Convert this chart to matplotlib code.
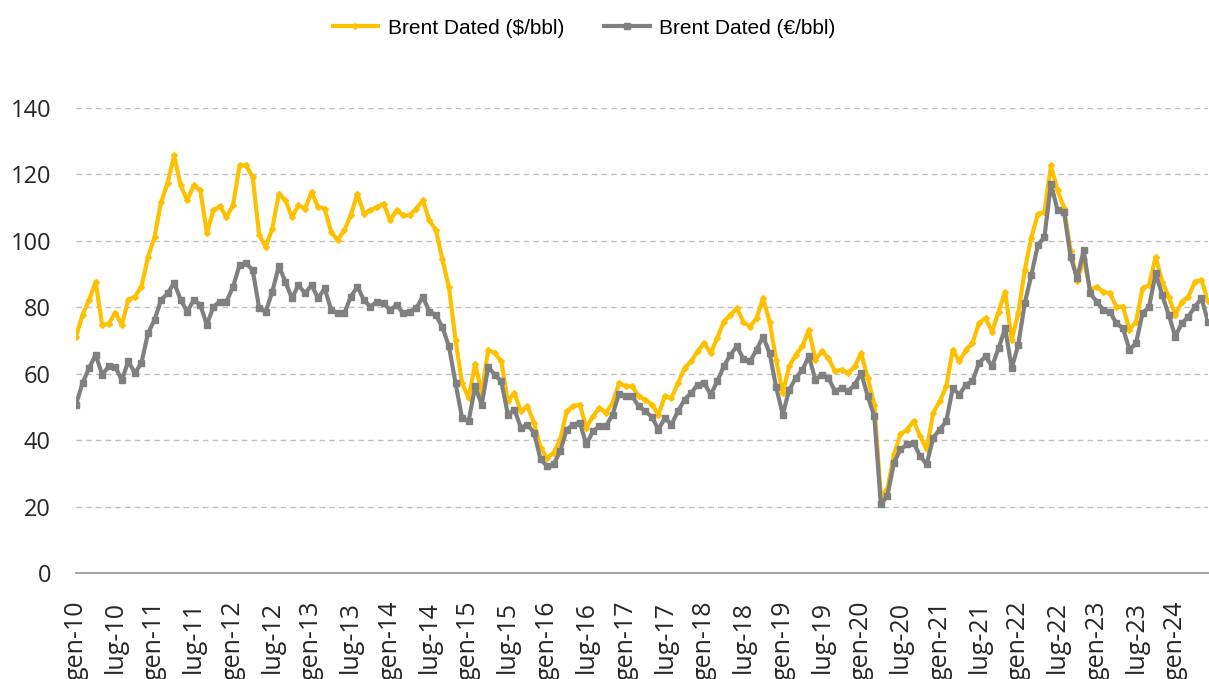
import numpy as np
import matplotlib
matplotlib.use("Agg")
import matplotlib.pyplot as plt

# Brent Dated, media mensile gen-10 .. giu-24
brent_usd = [71.2, 77.7, 82.2, 87.7, 74.7, 75.0, 78.4, 74.7, 82.2, 83.2, 86.2, 95.0,
             101.2, 111.7, 117.4, 125.7, 116.7, 112.2, 116.7, 115.2, 102.4, 109.2, 110.4, 107.2,
             110.7, 122.7, 122.7, 119.2, 101.7, 98.2, 103.7, 114.2, 112.2, 107.2, 110.7, 109.7,
             114.7, 110.2, 109.7, 102.7, 100.2, 103.2, 107.7, 114.2, 108.2, 109.2, 110.2, 111.2,
             106.2, 109.2, 107.7, 107.7, 109.7, 112.2, 106.2, 103.2, 94.4, 86.0, 70.2, 57.2,
             52.7, 63.0, 54.2, 67.2, 66.2, 63.7, 51.7, 54.2, 48.7, 50.2, 45.2, 37.7,
             34.7, 36.2, 40.2, 48.7, 50.2, 50.7, 43.7, 47.2, 49.7, 48.2, 51.2, 57.2,
             56.2, 56.2, 53.2, 52.2, 50.7, 47.7, 53.2, 52.7, 57.2, 61.7, 63.7, 66.7,
             69.2, 66.2, 70.7, 75.7, 77.7, 79.7, 75.5, 74.2, 76.7, 82.7, 75.7, 64.2,
             54.2, 62.2, 65.7, 68.2, 73.2, 64.2, 66.7, 64.7, 60.7, 61.2, 60.2, 62.2,
             66.2, 58.7, 50.7, 23.2, 25.2, 35.7, 41.7, 43.2, 45.7, 41.2, 37.2, 48.2,
             51.7, 56.2, 67.2, 63.7, 67.2, 69.2, 75.2, 76.7, 72.7, 78.7, 84.7, 70.2,
             78.2, 91.2, 101.0, 108.0, 108.7, 122.7, 115.2, 110.0, 97.0, 88.0, 94.5, 85.2,
             86.2, 84.7, 84.2, 80.2, 80.2, 73.2, 75.7, 85.7, 86.7, 95.2, 87.7, 83.2,
             77.7, 81.7, 83.2, 87.7, 88.2, 82.0]

brent_eur = [50.7, 57.2, 61.7, 65.7, 59.7, 62.2, 62.0, 58.2, 63.7, 60.2, 63.2, 72.2,
             76.2, 82.2, 84.2, 87.4, 82.2, 78.7, 82.2, 80.7, 74.7, 80.2, 81.7, 81.7,
             86.2, 92.7, 93.2, 91.2, 79.7, 78.7, 84.7, 92.4, 87.7, 82.7, 86.7, 84.2,
             86.7, 82.7, 85.7, 79.2, 78.2, 78.2, 83.2, 86.2, 82.2, 80.2, 81.7, 81.2,
             79.2, 80.7, 78.2, 78.7, 79.7, 83.2, 78.7, 77.7, 74.0, 68.2, 57.2, 46.7,
             45.7, 56.2, 50.7, 62.0, 59.7, 57.7, 47.7, 49.2, 43.7, 44.7, 42.2, 34.2,
             32.2, 32.7, 36.7, 43.2, 44.7, 45.2, 38.7, 42.7, 44.2, 44.2, 47.7, 54.0,
             53.2, 53.2, 50.2, 48.7, 47.0, 43.2, 46.7, 44.7, 48.7, 52.2, 54.2, 56.7,
             57.2, 53.7, 57.7, 62.2, 65.7, 68.2, 64.5, 63.7, 67.2, 71.2, 66.2, 56.0,
             47.7, 55.2, 58.7, 61.2, 65.2, 58.2, 59.7, 58.7, 54.7, 55.7, 54.7, 56.7,
             60.2, 53.2, 47.2, 20.7, 23.2, 33.2, 37.2, 38.7, 39.2, 35.2, 32.7, 40.7,
             43.2, 45.7, 55.7, 53.7, 56.7, 57.7, 63.2, 65.2, 62.2, 67.7, 73.7, 61.7,
             68.7, 81.2, 89.7, 98.7, 101.2, 117.2, 109.2, 108.7, 95.2, 88.7, 97.2, 84.2,
             81.7, 79.2, 78.7, 75.2, 73.7, 67.2, 69.2, 78.2, 80.2, 90.2, 83.7, 77.7,
             71.2, 75.2, 77.2, 80.2, 82.7, 75.7]

tick_labels = ["gen-10", "lug-10", "gen-11", "lug-11", "gen-12", "lug-12", "gen-13",
               "lug-13", "gen-14", "lug-14", "gen-15", "lug-15", "gen-16", "lug-16",
               "gen-17", "lug-17", "gen-18", "lug-18", "gen-19", "lug-19", "gen-20",
               "lug-20", "gen-21", "lug-21", "gen-22", "lug-22", "gen-23", "lug-23",
               "gen-24"]

mesi = np.arange(len(brent_usd))

fig = plt.figure(figsize=(12.09, 6.79), dpi=100)
ax = fig.add_axes([76 / 1209, 1 - 573 / 679, 1132 / 1209, 465 / 679])

ax.plot(mesi, brent_usd, color="#FFC000", lw=3, marker="D", ms=3,
        label="Brent Dated ($/bbl)", zorder=3)
ax.plot(mesi, brent_eur, color="#808080", lw=3, marker="s", ms=4.5,
        label="Brent Dated (€/bbl)", zorder=4)

ax.set_xlim(0, len(brent_usd) - 1)
ax.set_ylim(0, 140)
ax.set_yticks(range(0, 141, 20))
ax.set_xticks(np.arange(0, len(brent_usd), 6))
ax.set_xticklabels(tick_labels, rotation=90)

ax.yaxis.grid(True, ls=(0, (4, 3)), color="#BFBFBF", lw=1)
ax.set_axisbelow(True)
for s in ["top", "right", "left"]:
    ax.spines[s].set_visible(False)
ax.spines["bottom"].set_color("#A6A6A6")
ax.spines["bottom"].set_linewidth(1.5)

for lab in ax.get_yticklabels():
    lab.set_fontfamily(["Open Sans", "DejaVu Sans"])
    lab.set_fontsize(17)
    lab.set_color("#262626")
for lab in ax.get_xticklabels():
    lab.set_fontfamily(["Open Sans", "DejaVu Sans"])
    lab.set_fontsize(18)
    lab.set_color("#262626")
ax.tick_params(axis="both", length=0)
ax.tick_params(axis="x", pad=20)
ax.tick_params(axis="y", pad=18)

fig.legend(loc="upper center", bbox_to_anchor=(0.483, 1.0), ncol=2, frameon=False,
           handlelength=2.2, columnspacing=1.9, handletextpad=0.45,
           prop={"family": ["Liberation Sans", "DejaVu Sans"], "size": 15})

plt.savefig("out.png", dpi=100)
